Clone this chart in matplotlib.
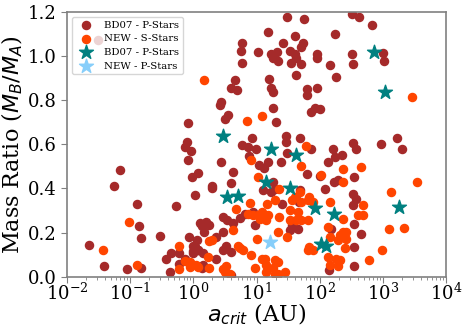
import matplotlib
matplotlib.use('Agg')
import matplotlib.pyplot as plt
import numpy as np

plt.rcParams['font.family'] = 'serif'
plt.rcParams['font.serif'] = ['DejaVu Serif']
plt.rcParams['mathtext.fontset'] = 'dejavusans'

# BD07 binaries (p-type), critical semi-major axis in AU and mass ratio
bd07_a = [30, 56, 320, 415, 665, 15, 40, 174, 5.9, 26, 54, 50, 5.6, 34, 40, 43, 21, 17, 18, 22,
          10.5, 90, 90, 5.9, 35, 50, 145, 320, 335, 1000, 1030, 43, 185, 4.5, 15.5, 4.0, 4.9, 17, 18, 62,
          62, 90, 2.7, 2.6, 18, 74, 83, 100, 3.5, 3.2, 0.82, 20, 8.4, 0.79, 0.74, 0.91, 0.82, 6.0, 7.3, 9.7,
          29, 29, 48, 30, 74, 162, 335, 380, 955, 1660, 2040, 7.6, 224, 178, 135, 24, 2.7, 11, 13, 0.069,
          0.95, 1.2, 4.2, 0.055, 1.96, 3.9, 1.05, 2.0, 0.13, 0.53, 0.14, 0.15, 0.30, 0.85, 0.022, 0.44, 0.59, 1.0,
          1.0, 0.37, 0.74, 0.039, 0.15, 0.089, 0.43, 0.59, 1.26, 1.35, 2.9, 3.4, 5.5, 4.2, 1.6, 1.8, 1.5, 2.9,
          2.3, 9.4, 1.14, 1.06, 1.17, 62, 170, 195, 355, 48, 120, 338, 380, 338, 43, 47, 355, 152, 355, 355,
          457, 12.6, 17, 25, 102, 45, 34, 36, 8.9, 6.5, 4.0, 4.0, 3.3, 2.95, 2.3, 1.43, 1.35, 1.06, 1.2, 1.4,
          1.0, 15, 18, 19.5, 140, 0.031]
bd07_q = [1.18, 1.17, 1.19, 1.18, 1.14, 1.11, 1.09, 1.10, 1.06, 1.06, 1.06, 1.04, 1.025, 1.025, 1.01, 0.99, 1.02, 1.01, 0.99, 0.98,
          1.02, 1.01, 0.99, 0.97, 0.97, 0.966, 0.96, 1.01, 0.966, 1.015, 0.98, 0.916, 0.907, 0.894, 0.898, 0.857, 0.848, 0.857, 0.839, 0.853,
          0.826, 0.857, 0.79, 0.78, 0.767, 0.745, 0.767, 0.762, 0.735, 0.717, 0.695, 0.70, 0.63, 0.613, 0.586, 0.568, 0.527, 0.595, 0.586, 0.581,
          0.64, 0.609, 0.627, 0.563, 0.581, 0.581, 0.604, 0.577, 0.60, 0.627, 0.577, 0.545, 0.554, 0.541, 0.518, 0.518, 0.518, 0.505, 0.495, 0.482,
          0.45, 0.468, 0.473, 0.41, 0.41, 0.423, 0.369, 0.40, 0.328, 0.319, 0.228, 0.174, 0.183, 0.179, 0.142, 0.106, 0.106, 0.138,
          0.115, 0.079, 0.079, 0.048, 0.038, 0.034, 0.02, 0.057, 0.242, 0.228, 0.27, 0.256, 0.265, 0.242, 0.247, 0.233, 0.201, 0.201,
          0.179, 0.233, 0.165, 0.133, 0.12, 0.464, 0.429, 0.437, 0.452, 0.391, 0.399, 0.376, 0.354, 0.324, 0.354, 0.338, 0.241, 0.218, 0.135, 0.048,
          0.195, 0.391, 0.384, 0.331, 0.455, 0.218, 0.21, 0.233, 0.293, 0.286, 0.112, 0.007, 0.138, 0.12, 0.082, 0.052, 0.037, 0.135, 0.12, 0.105,
          0.105, 0.52, 0.429, 0.399, 0.03, 1.075]

# new sample, s-type
new_s_a = [1.5, 12.2, 7.1, 2930, 60, 8.3, 51, 234, 447, 3550, 1350, 480, 480, 1250, 2200, 960, 600, 0.095, 0.037, 0.59,
           0.74, 0.126, 0.59, 0.9, 0.9, 1.8, 10.4, 234, 23, 19.5, 145, 107, 7.8, 14.7, 405, 234, 135, 10, 1.94, 8.3,
           12, 10.6, 15.2, 11.2, 14.4, 7.4, 8.8, 5.1, 6.1, 1.7, 0.87, 1.12, 1.2, 1.8, 2.96, 3.3, 9.4, 13.5, 14.4, 19.4,
           18.3, 14.4, 3.15, 3.8, 4.3, 5.5, 12, 22, 28, 135, 183, 209, 195, 145, 145, 209, 195, 263, 250, 263,
           69, 66, 23, 34, 43, 51, 66, 48, 40, 51, 69, 78, 4.8, 36, 66, 45, 34, 234, 30, 22,
           78, 22, 19.4]
new_s_q = [0.894, 0.728, 0.708, 0.814, 0.594, 0.527, 0.501, 0.49, 0.497, 0.428, 0.384, 0.327, 0.281, 0.214, 0.221, 0.12, 0.075, 0.247, 0.121, 0.137,
           0.071, 0.051, 0.033, 0.042, 0.062, 0.162, 0.452, 0.429, 0.399, 0.346, 0.338, 0.459, 0.334, 0.331, 0.278, 0.263, 0.225, 0.173, 0.165, 0.097,
           0.293, 0.278, 0.278, 0.263, 0.256, 0.286, 0.278, 0.138, 0.12, 0.09, 0.067, 0.052, 0.044, 0.037, 0.033, 0.048, 0.037, 0.082, 0.052, 0.075,
           0.037, 0.022, 0.022, 0.014, 0.21, 0.128, 0.082, 0.014, 0.022, 0.09, 0.082, 0.075, 0.048, 0.052, 0.18, 0.188, 0.165, 0.173, 0.128, 0.203,
           0.135, 0.123, 0.27, 0.259, 0.256, 0.259, 0.256, 0.384, 0.361, 0.338, 0.361, 0.338, 0.309, 0.346, 0.349, 0.293, 0.301, 0.203, 0.18, 0.203,
           0.123, 0.067, 0.014]

# BD07 p-type shown as stars
bd07_star_a = [3.0, 740, 1100, 17.2, 42, 14.2, 34, 3.4, 5.1, 83, 166, 1790, 107, 128]
bd07_star_q = [0.637, 1.017, 0.839, 0.58, 0.554, 0.428, 0.404, 0.361, 0.364, 0.311, 0.286, 0.316, 0.15, 0.138]

# new sample, p-type
new_p_a = [16.2]
new_p_q = [0.157]

fig = plt.figure(figsize=(4.63, 3.27), dpi=100)
ax = fig.add_axes([0.145, 0.154, 0.818, 0.809])

ax.scatter(bd07_a, bd07_q, s=34, color='brown', label='BD07 - P-Stars', zorder=2)
ax.scatter(new_s_a, new_s_q, s=34, color='orangered', label='NEW - S-Stars', zorder=2)
ax.scatter(bd07_star_a, bd07_star_q, s=110, marker='*', color='teal', label='BD07 - P-Stars', zorder=3)
ax.scatter(new_p_a, new_p_q, s=110, marker='*', color='lightskyblue', label='NEW - P-Stars', zorder=3)

ax.set_xscale('log')
ax.set_xlim(1e-2, 1e4)
ax.set_ylim(0, 1.2)
ax.set_xticks([1e-2, 1e-1, 1e0, 1e1, 1e2, 1e3, 1e4])
ax.set_yticks([0.0, 0.2, 0.4, 0.6, 0.8, 1.0, 1.2])

ax.set_xlabel(r'$a_{crit}$ (AU)', fontsize=16, labelpad=-1)
ax.set_ylabel(r'Mass Ratio ($M_B/M_A$)', fontsize=16, labelpad=2)
ax.tick_params(axis='both', which='major', labelsize=13, length=4, color='grey')
ax.tick_params(axis='x', which='major', pad=0)
ax.tick_params(axis='x', which='minor', length=2, color='grey')
for sp in ax.spines.values():
    sp.set_color('grey')
    sp.set_linewidth(1.2)

ax.legend(loc='upper left', fontsize=7.3, labelspacing=0.45, borderpad=0.35)

fig.savefig('out.png', dpi=100)
